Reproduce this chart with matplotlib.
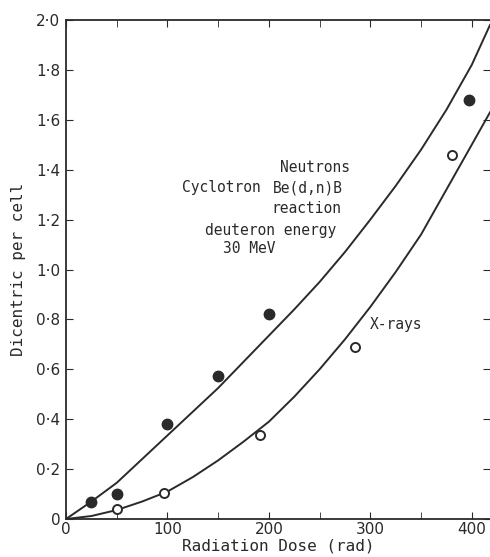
import matplotlib
matplotlib.use('Agg')
import matplotlib.pyplot as plt

# measured points (dose in rad, dicentrics per cell)
neutron_dose = [25, 50, 100, 150, 200, 397]
neutron_yield = [0.068, 0.10, 0.38, 0.575, 0.82, 1.68]

xray_dose = [50, 97, 191, 285, 381]
xray_yield = [0.04, 0.104, 0.335, 0.69, 1.46]

# fitted curves
neutron_curve_dose = [0, 25, 50, 75, 100, 125, 150, 175, 200, 225, 250, 275, 300, 325, 350, 375, 400, 418]
neutron_curve_yield = [0, 0.07, 0.145, 0.24, 0.335, 0.43, 0.525, 0.63, 0.735, 0.84, 0.95, 1.07, 1.2, 1.335, 1.48, 1.64, 1.82, 1.98]

xray_curve_dose = [0, 25, 50, 75, 100, 125, 150, 175, 200, 225, 250, 275, 300, 325, 350, 375, 400, 418]
xray_curve_yield = [0, 0.012, 0.036, 0.07, 0.11, 0.168, 0.235, 0.31, 0.39, 0.49, 0.6, 0.72, 0.85, 0.99, 1.14, 1.32, 1.5, 1.63]

x_ticks = [0, 100, 200, 300, 400]
x_labels = ['0', '100', '200', '300', '400']
y_ticks = [0, 0.2, 0.4, 0.6, 0.8, 1.0, 1.2, 1.4, 1.6, 1.8, 2.0]
y_labels = ['0', '0·2', '0·4', '0·6', '0·8', '1·0', '1·2', '1·4', '1·6', '1·8', '2·0']

ink = '#2a2a2a'
mono = 'DejaVu Sans Mono'

fig = plt.figure(figsize=(4.9, 5.57), dpi=100)
ax = fig.add_axes([0.1347, 0.0682, 0.8653, 0.8959])

ax.plot(neutron_curve_dose, neutron_curve_yield, color=ink, lw=1.4)
ax.plot(xray_curve_dose, xray_curve_yield, color=ink, lw=1.4)
ax.plot(neutron_dose, neutron_yield, 'o', color=ink, ms=7.5, clip_on=False)
ax.plot(xray_dose, xray_yield, 'o', mfc='white', mec=ink, mew=1.4, ms=6.5, clip_on=False)

ax.set_xlim(0, 418)
ax.set_ylim(0, 2.0)

ax.set_xticks(x_ticks)
ax.set_xticklabels(x_labels)
ax.set_xticks([50, 150, 250, 350], minor=True)
ax.set_yticks(y_ticks)
ax.set_yticklabels(y_labels)

ax.tick_params(axis='both', which='both', direction='in', color=ink,
               labelsize=11, labelcolor=ink)
ax.tick_params(axis='x', which='both', length=5, top=True, pad=2)
ax.tick_params(axis='y', length=5, right=True, pad=4)

for side in ['left', 'bottom', 'top']:
    ax.spines[side].set_color(ink)
    ax.spines[side].set_linewidth(1.3)
ax.spines['right'].set_visible(False)

ax.set_xlabel('Radiation Dose (rad)', fontsize=11.5, family=mono, color=ink, labelpad=1)
ax.set_ylabel('Dicentric per cell', fontsize=11.5, family=mono, color=ink, labelpad=7)

txt = dict(fontsize=10.5, family=mono, color=ink, va='center')
ax.text(280, 1.407, 'Neutrons', ha='right', **txt)
ax.text(114, 1.327, 'Cyclotron', ha='left', **txt)
ax.text(273, 1.327, 'Be(d,n)B', ha='right', **txt)
ax.text(236.5, 1.246, 'reaction', ha='center', **txt)
ax.text(137, 1.158, 'deuteron energy', ha='left', **txt)
ax.text(155, 1.086, '30 MeV', ha='left', **txt)
ax.text(299.5, 0.778, 'X-rays', ha='left', **txt)

fig.savefig('out.png', dpi=100)
